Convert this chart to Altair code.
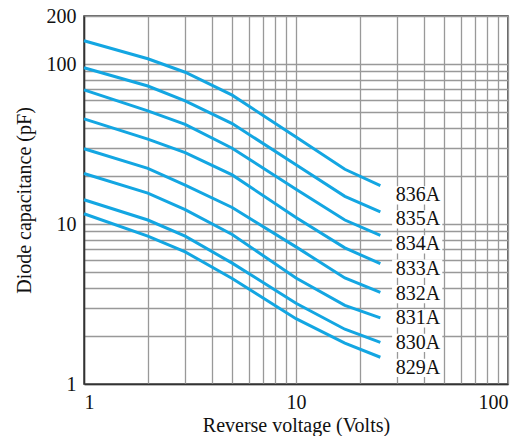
import altair as alt
import pandas as pd

# Reverse voltage (V) sample points
voltage = [1, 2, 3, 5, 10, 17, 25]

# Diode capacitance (pF) for each varactor
c_836A = [140, 108, 89, 64, 35, 22, 17.4]
c_835A = [95, 73, 59, 42.5, 23.5, 14.9, 11.9]
c_834A = [69, 51, 42, 29.8, 16.5, 10.6, 8.5]
c_833A = [45.5, 34, 28, 20.3, 11, 7.1, 5.65]
c_832A = [29.6, 22.3, 17.5, 12.7, 7.2, 4.6, 3.74]
c_831A = [20.7, 15.6, 12.3, 8.6, 4.6, 3.1, 2.59]
c_830A = [14.2, 10.6, 8.4, 5.7, 3.2, 2.2, 1.82]
c_829A = [11.6, 8.4, 6.7, 4.57, 2.56, 1.8, 1.47]

series_names = ["836A", "835A", "834A", "833A", "832A", "831A", "830A", "829A"]
series_values = [c_836A, c_835A, c_834A, c_833A, c_832A, c_831A, c_830A, c_829A]

# Label column (value coordinates)
label_names = series_names
label_c = [15.1, 10.7, 7.46, 5.26, 3.65, 2.57, 1.81, 1.26]
label_v = [37.6] * 8
box_v0 = [28.4] * 8
box_v1 = [49.0] * 8

x_grid = [1, 2, 3, 4, 5, 6, 7, 8, 9, 10, 20, 30, 40, 50, 60, 70, 80, 90, 100]
y_grid = [1, 2, 3, 4, 5, 6, 7, 8, 9, 10, 20, 30, 40, 50, 60, 70, 80, 90, 100, 200]

rows = []
for name, vals in zip(series_names, series_values):
    for v, c in zip(voltage, vals):
        rows.append({"series": name, "v": v, "c": c})
df = pd.DataFrame(rows)

lab = pd.DataFrame({"name": label_names, "c": label_c, "v": label_v,
                    "v0": box_v0, "v1": box_v1})

FONT = "Liberation Serif"

xscale = alt.Scale(type="log", domain=[1, 100], nice=False)
yscale = alt.Scale(type="log", domain=[1, 200], nice=False)

xaxis = alt.Axis(
    values=x_grid,
    labelExpr="indexof([1,10,100], datum.value) >= 0 ? format(datum.value, 'd') : ''",
    title="Reverse voltage (Volts)",
    grid=True, ticks=False, labelPadding=8,
    titleBaseline="alphabetic", titleY=47,
)
yaxis = alt.Axis(
    values=y_grid,
    labelExpr="indexof([1,10,100,200], datum.value) >= 0 ? format(datum.value, 'd') : ''",
    title="Diode capacitance (pF)",
    grid=True, ticks=False, labelPadding=8, titlePadding=12,
)

lines = alt.Chart(df).mark_line(
    color="#13a6e2", strokeWidth=3, interpolate="linear"
).encode(
    x=alt.X("v:Q", scale=xscale, axis=xaxis),
    y=alt.Y("c:Q", scale=yscale, axis=yaxis),
    detail="series:N",
)

boxes = alt.Chart(lab).transform_calculate(
    c0="datum.c / 1.14", c1="datum.c * 1.14"
).mark_rect(color="white").encode(
    x=alt.X("v0:Q", scale=xscale),
    x2="v1:Q",
    y=alt.Y("c0:Q", scale=yscale),
    y2="c1:Q",
)

texts = alt.Chart(lab).mark_text(
    font=FONT, fontSize=20, color="#111", align="center", baseline="middle"
).encode(
    x=alt.X("v:Q", scale=xscale),
    y=alt.Y("c:Q", scale=yscale),
    text="name:N",
)

chart = alt.layer(boxes, lines, texts).properties(
    width=424, height=368,
    autosize=alt.AutoSizeParams(type="none"),
    padding={"left": 76, "top": 8, "right": 13, "bottom": 52},
).configure_view(
    stroke="#333", strokeWidth=1.5
).configure_axis(
    gridColor="#999", gridWidth=1.3, gridOpacity=1,
    domainColor="#333", domainWidth=1.5,
    labelFont=FONT, labelFontSize=20, labelColor="#111",
    titleFont=FONT, titleFontSize=20, titleFontWeight="normal", titleColor="#111",
)

chart.save("out.html", embed_options={"renderer": "svg", "actions": False})
